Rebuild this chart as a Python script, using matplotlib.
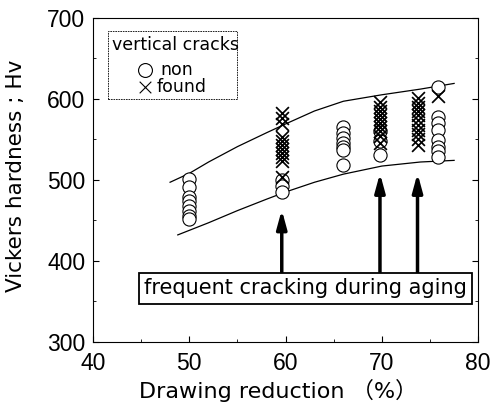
import numpy as np
import matplotlib
matplotlib.use("Agg")
import matplotlib.pyplot as plt
from matplotlib.ticker import MultipleLocator

plt.rcParams['font.family'] = ['Liberation Sans', 'Noto Sans CJK JP', 'DejaVu Sans']
WIDE = ['DejaVu Sans', 'Noto Sans CJK JP']

# ------------ data ------------
# hardness, no vertical cracks (circles)
x_non = [50]*8 + [59.6]*3 + [66]*7 + [69.8]*3 + [75.8]*8
y_non = [501, 491, 479, 474, 468, 462, 455, 452,
         500, 492, 485,
         565, 558, 552, 546, 541, 537, 518,
         560, 548, 531,
         615, 578, 570, 562, 549, 541, 535, 528]

# hardness, vertical cracks found (crosses)
x_found = [59.6]*11 + [69.8]*10 + [73.7]*11 + [75.8]
y_found = [583, 576, 569, 553, 548, 543, 538, 533, 528, 523, 503,
           596, 590, 585, 580, 575, 570, 565, 560, 554, 546,
           601, 595, 590, 585, 580, 574, 568, 562, 556, 550, 543,
           603]

# upper / lower envelope lines
upper_x = [48, 50, 52, 55, 58, 60, 63, 66, 70, 74, 77.5]
upper_y = [497, 508, 522, 541, 558, 569, 585, 597, 605, 612, 619]
lower_x = [48.8, 52, 55, 58, 60, 63, 66, 70, 74, 77.5]
lower_y = [432, 447, 462, 476, 485, 497, 507, 517, 522, 524]

arrow_x = [59.6, 69.8, 73.7]
arrow_tip = [463, 508, 508]

# ------------ figure ------------
fig = plt.figure(figsize=(4.95, 4.05), dpi=100)
ax = fig.add_axes([0.188, 0.156, 0.778, 0.8])

ax.plot(upper_x, upper_y, color='black', lw=0.9)
ax.plot(lower_x, lower_y, color='black', lw=0.9)

ax.scatter(x_non, y_non, s=90, facecolors='white', edgecolors='black', linewidths=0.8, zorder=3)
ax.scatter(x_found, y_found, s=85, marker='x', color='black', linewidths=1.25, zorder=4)

for xa, ya in zip(arrow_x, arrow_tip):
    ax.annotate('', xy=(xa, ya), xytext=(xa, 386),
                arrowprops=dict(arrowstyle='-|>,head_width=0.3,head_length=1.1',
                                color='black', lw=2.5, shrinkA=0, shrinkB=0), zorder=2)

ax.text(62.1, 366, 'frequent cracking during aging', family=WIDE, fontsize=15,
        ha='center', va='center',
        bbox=dict(boxstyle='square,pad=0.25', facecolor='white', edgecolor='black', lw=1.3), zorder=5)

# legend box
ax.text(41.95, 677, 'vertical cracks', family=WIDE, fontsize=12.5, ha='left', va='top')
ax.scatter([45.4], [636], s=100, facecolors='white', edgecolors='black', linewidths=0.8)
ax.text(47.0, 636, 'non', family=WIDE, fontsize=12.5, ha='left', va='center')
ax.scatter([45.4], [615], s=70, marker='x', color='black', linewidths=0.8)
ax.text(46.6, 615, 'found', family=WIDE, fontsize=12.5, ha='left', va='center')
ax.add_patch(plt.Rectangle((41.56, 600), 13.4, 84, fill=False, lw=0.6, ls=(0, (2, 1))))

ax.set_xlim(40, 80)
ax.set_ylim(300, 700)
ax.xaxis.set_major_locator(MultipleLocator(10))
ax.xaxis.set_minor_locator(MultipleLocator(5))
ax.yaxis.set_major_locator(MultipleLocator(100))
ax.yaxis.set_minor_locator(MultipleLocator(50))
ax.tick_params(which='both', direction='in', right=True, top=False, labelsize=16.5)
ax.tick_params(which='major', length=4)
ax.tick_params(which='minor', length=2.5)
ax.tick_params(axis='x', pad=7)
ax.tick_params(axis='y', pad=5.5)
for sp in ax.spines.values():
    sp.set_linewidth(0.8)

ax.set_xlabel('Drawing reduction （%）', family=WIDE, fontsize=16)
ax.set_ylabel('Vickers hardness ; Hv', family=WIDE, fontsize=15.5)
ax.xaxis.set_label_coords(0.48, -0.115)
ax.yaxis.set_label_coords(-0.175, 0.512)

fig.savefig('out.png', dpi=100)
